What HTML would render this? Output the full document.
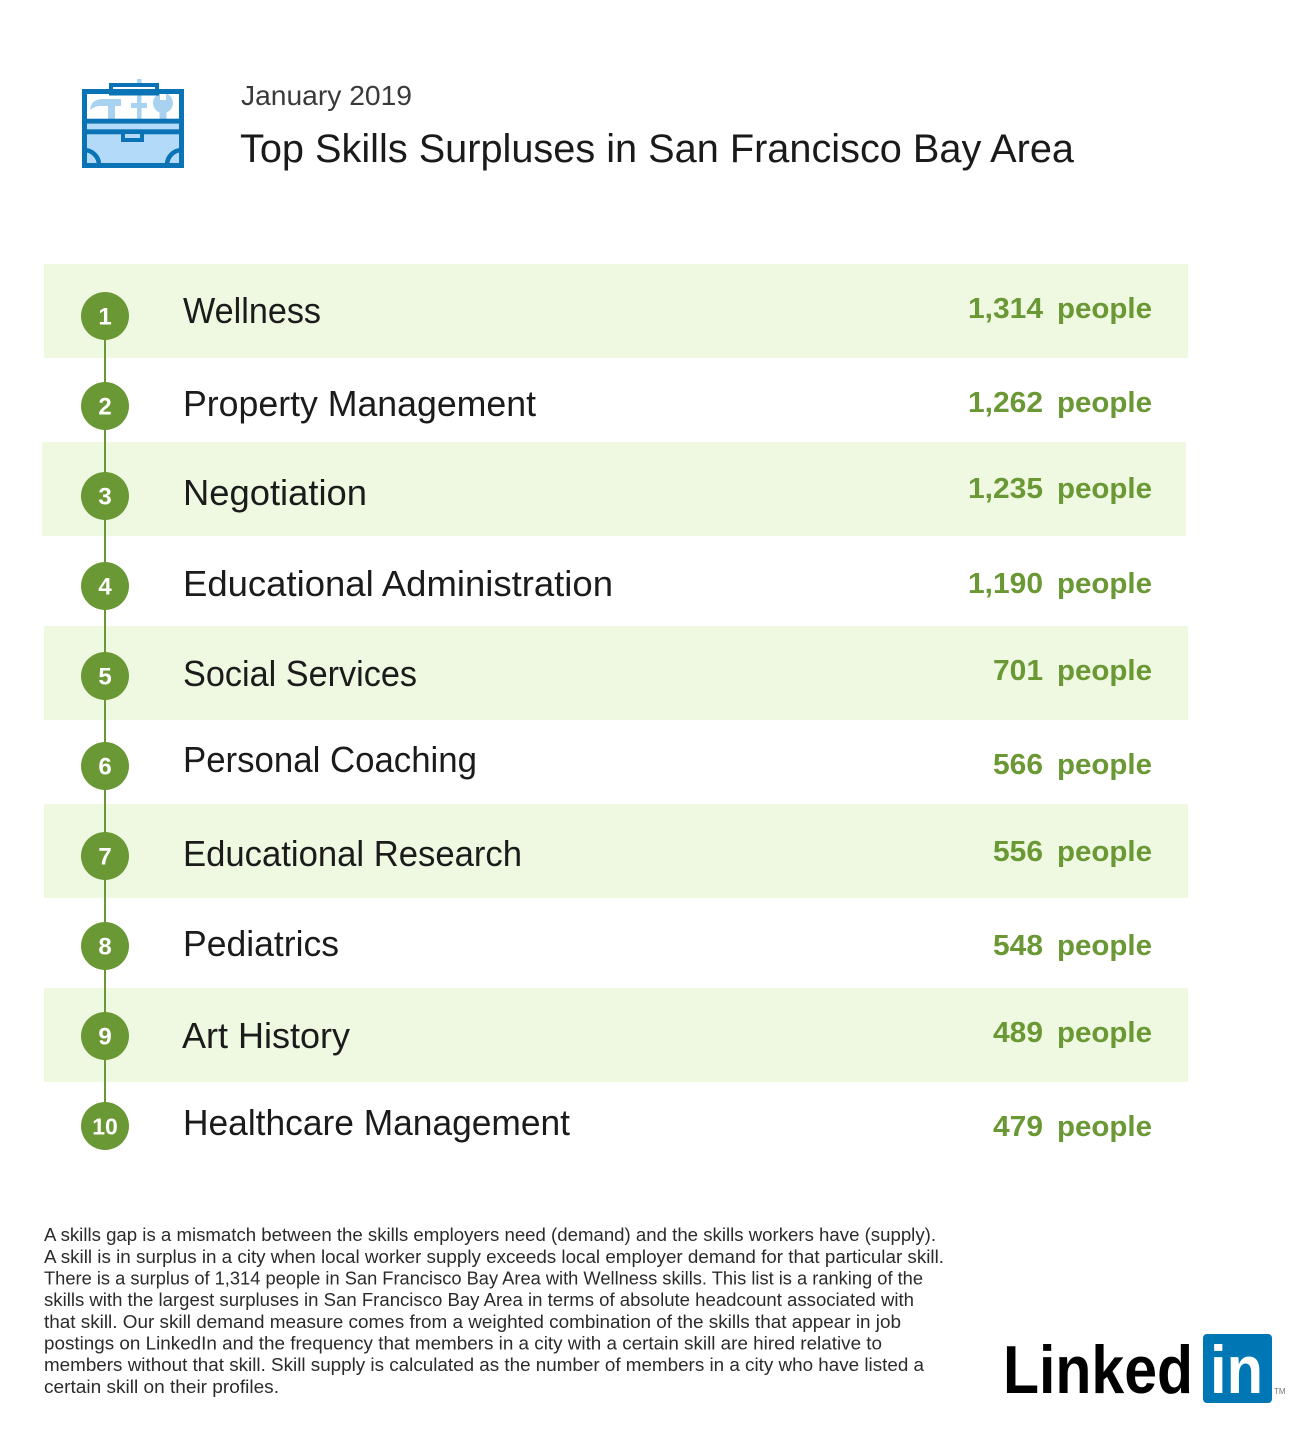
<!DOCTYPE html>
<html>
<head>
<meta charset="utf-8">
<style>
  html,body{margin:0;padding:0;background:#fff;}
  svg{display:block;}
  text{font-family:"Liberation Sans",sans-serif;}
</style>
</head>
<body>
<svg width="1300" height="1430" viewBox="0 0 1300 1430" xmlns="http://www.w3.org/2000/svg">
  <rect x="0" y="0" width="1300" height="1430" fill="#ffffff"/>

  <!-- Toolbox icon -->
  <g>
    <!-- tools (light blue) -->
    <rect x="137" y="79" width="4.5" height="40" fill="#a9d2f0"/>
    <rect x="131" y="103" width="16" height="5" fill="#a9d2f0"/>
    <path d="M90 110 Q91 99 103 99 L121 99 L121 106 L115 106 L115 119 L108 119 L108 106 L100 106 Q95 106 90 110 Z" fill="#a9d2f0"/>
    <circle cx="163" cy="103" r="10" fill="#a9d2f0"/>
    <rect x="160" y="91" width="6" height="9" fill="#ffffff"/>
    <rect x="159.5" y="108" width="7" height="11" fill="#a9d2f0"/>
    <!-- handle -->
    <rect x="111" y="85" width="46" height="8.5" fill="#ffffff" stroke="#0a73b5" stroke-width="4"/>
    <!-- lower compartment -->
    <rect x="84.5" y="124" width="97" height="40.5" fill="#b3dbf9"/>
    <!-- band -->
    <rect x="84" y="118.7" width="98" height="5" fill="#0a73b5"/>
    <rect x="84" y="129.3" width="98" height="5" fill="#0a73b5"/>
    <!-- latch -->
    <rect x="121" y="134" width="23" height="8" fill="#0a73b5"/>
    <rect x="125" y="134" width="15" height="4" fill="#b3dbf9"/>
    <!-- corner arcs -->
    <path d="M84 150 A15 15 0 0 1 99 165" fill="none" stroke="#0a73b5" stroke-width="4.5"/>
    <path d="M182 150 A15 15 0 0 0 167 165" fill="none" stroke="#0a73b5" stroke-width="4.5"/>
    <!-- outer box -->
    <rect x="84.5" y="91.5" width="97" height="74" fill="none" stroke="#0a73b5" stroke-width="5"/>
  </g>

  <!-- Header -->
  <text x="241" y="105" font-size="28" fill="#3a3a3a" textLength="171" lengthAdjust="spacingAndGlyphs">January 2019</text>
  <text x="240" y="162" font-size="40" fill="#1a1a1a" textLength="834" lengthAdjust="spacingAndGlyphs">Top Skills Surpluses in San Francisco Bay Area</text>

  <!-- Row backgrounds -->
  <g fill="#eff8e1">
    <rect x="44" y="264" width="1144" height="94"/>
    <rect x="42" y="442" width="1144" height="94"/>
    <rect x="44" y="626" width="1144" height="94"/>
    <rect x="44" y="804" width="1144" height="94"/>
    <rect x="44" y="988" width="1144" height="94"/>
  </g>

  <!-- Timeline line -->
  <line x1="105" y1="316" x2="105" y2="1126" stroke="#6a9834" stroke-width="2"/>

  <!-- Circles -->
  <g fill="#6a9834">
    <circle cx="105" cy="316" r="24"/>
    <circle cx="105" cy="406" r="24"/>
    <circle cx="105" cy="496" r="24"/>
    <circle cx="105" cy="586" r="24"/>
    <circle cx="105" cy="676" r="24"/>
    <circle cx="105" cy="766" r="24"/>
    <circle cx="105" cy="856" r="24"/>
    <circle cx="105" cy="946" r="24"/>
    <circle cx="105" cy="1036" r="24"/>
    <circle cx="105" cy="1126" r="24"/>
  </g>
  <g fill="#ffffff" font-size="24" font-weight="bold" text-anchor="middle">
    <text x="105" y="324.5">1</text>
    <text x="105" y="414.5">2</text>
    <text x="105" y="504.5">3</text>
    <text x="105" y="594.5">4</text>
    <text x="105" y="684.5">5</text>
    <text x="105" y="774.5">6</text>
    <text x="105" y="864.5">7</text>
    <text x="105" y="954.5">8</text>
    <text x="105" y="1044.5">9</text>
    <text x="105" y="1134.5" font-size="23">10</text>
  </g>

  <!-- Labels -->
  <g fill="#1b1b1b" font-size="36">
    <text x="183" y="323" textLength="138" lengthAdjust="spacingAndGlyphs">Wellness</text>
    <text x="183" y="416" textLength="353" lengthAdjust="spacingAndGlyphs">Property Management</text>
    <text x="183" y="505" textLength="184" lengthAdjust="spacingAndGlyphs">Negotiation</text>
    <text x="183" y="596" textLength="430" lengthAdjust="spacingAndGlyphs">Educational Administration</text>
    <text x="183" y="686" textLength="234" lengthAdjust="spacingAndGlyphs">Social Services</text>
    <text x="183" y="772" textLength="294" lengthAdjust="spacingAndGlyphs">Personal Coaching</text>
    <text x="183" y="866" textLength="339" lengthAdjust="spacingAndGlyphs">Educational Research</text>
    <text x="183" y="956" textLength="156" lengthAdjust="spacingAndGlyphs">Pediatrics</text>
    <text x="182" y="1048" textLength="168" lengthAdjust="spacingAndGlyphs">Art History</text>
    <text x="183" y="1135" textLength="387" lengthAdjust="spacingAndGlyphs">Healthcare Management</text>
  </g>

  <!-- Values -->
  <g fill="#6a9834" font-size="29" font-weight="bold">
    <text x="968" y="318" textLength="75" lengthAdjust="spacingAndGlyphs">1,314</text><text x="1057" y="318" textLength="95" lengthAdjust="spacingAndGlyphs">people</text>
    <text x="968" y="412" textLength="75" lengthAdjust="spacingAndGlyphs">1,262</text><text x="1057" y="412" textLength="95" lengthAdjust="spacingAndGlyphs">people</text>
    <text x="968" y="498" textLength="75" lengthAdjust="spacingAndGlyphs">1,235</text><text x="1057" y="498" textLength="95" lengthAdjust="spacingAndGlyphs">people</text>
    <text x="968" y="593" textLength="75" lengthAdjust="spacingAndGlyphs">1,190</text><text x="1057" y="593" textLength="95" lengthAdjust="spacingAndGlyphs">people</text>
    <text x="993" y="680" textLength="50" lengthAdjust="spacingAndGlyphs">701</text><text x="1057" y="680" textLength="95" lengthAdjust="spacingAndGlyphs">people</text>
    <text x="993" y="774" textLength="50" lengthAdjust="spacingAndGlyphs">566</text><text x="1057" y="774" textLength="95" lengthAdjust="spacingAndGlyphs">people</text>
    <text x="993" y="861" textLength="50" lengthAdjust="spacingAndGlyphs">556</text><text x="1057" y="861" textLength="95" lengthAdjust="spacingAndGlyphs">people</text>
    <text x="993" y="955" textLength="50" lengthAdjust="spacingAndGlyphs">548</text><text x="1057" y="955" textLength="95" lengthAdjust="spacingAndGlyphs">people</text>
    <text x="993" y="1042" textLength="50" lengthAdjust="spacingAndGlyphs">489</text><text x="1057" y="1042" textLength="95" lengthAdjust="spacingAndGlyphs">people</text>
    <text x="993" y="1136" textLength="50" lengthAdjust="spacingAndGlyphs">479</text><text x="1057" y="1136" textLength="95" lengthAdjust="spacingAndGlyphs">people</text>
  </g>

  <!-- Footer -->
  <g fill="#2b2b2b" font-size="18">
    <text x="44" y="1241" textLength="892" lengthAdjust="spacingAndGlyphs">A skills gap is a mismatch between the skills employers need (demand) and the skills workers have (supply).</text>
    <text x="44" y="1263" textLength="900" lengthAdjust="spacingAndGlyphs">A skill is in surplus in a city when local worker supply exceeds local employer demand for that particular skill.</text>
    <text x="44" y="1284.5" textLength="879" lengthAdjust="spacingAndGlyphs">There is a surplus of 1,314 people in San Francisco Bay Area with Wellness skills. This list is a ranking of the</text>
    <text x="44" y="1306" textLength="870" lengthAdjust="spacingAndGlyphs">skills with the largest surpluses in San Francisco Bay Area in terms of absolute headcount associated with</text>
    <text x="44" y="1328" textLength="857" lengthAdjust="spacingAndGlyphs">that skill. Our skill demand measure comes from a weighted combination of the skills that appear in job</text>
    <text x="44" y="1349.5" textLength="838" lengthAdjust="spacingAndGlyphs">postings on LinkedIn and the frequency that members in a city with a certain skill are hired relative to</text>
    <text x="44" y="1371" textLength="880" lengthAdjust="spacingAndGlyphs">members without that skill. Skill supply is calculated as the number of members in a city who have listed a</text>
    <text x="44" y="1393" textLength="235" lengthAdjust="spacingAndGlyphs">certain skill on their profiles.</text>
  </g>

  <!-- LinkedIn logo -->
  <text x="1003" y="1393" font-size="68" font-weight="bold" fill="#000000" textLength="190" lengthAdjust="spacingAndGlyphs">Linked</text>
  <rect x="1203" y="1334" width="69" height="69" rx="4" ry="4" fill="#0077b5"/>
  <text x="1210" y="1393" font-size="68" font-weight="bold" fill="#ffffff" textLength="53" lengthAdjust="spacingAndGlyphs">in</text>
  <text x="1274" y="1394" font-size="8" fill="#777777">TM</text>
</svg>
</body>
</html>
